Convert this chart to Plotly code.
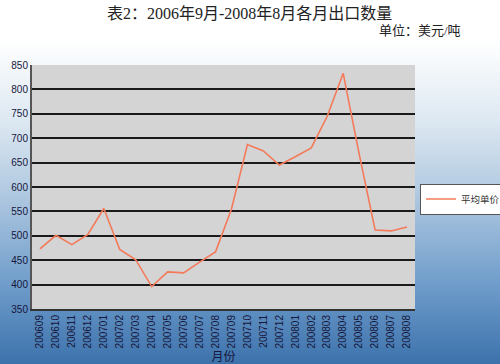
import base64
import plotly.graph_objects as go

months = ['200609', '200610', '200611', '200612', '200701', '200702', '200703', '200704',
          '200705', '200706', '200707', '200708', '200709', '200710', '200711', '200712',
          '200801', '200802', '200803', '200804', '200805', '200806', '200807', '200808']
avg_price = [473, 501, 482, 503, 556, 472, 451, 396, 426, 424, 446, 467,
             555, 687, 674, 645, 662, 680, 745, 833, 668, 512, 510, 518]
series_name = '平均单价'
title_text = '表2：2006年9月-2008年8月各月出口数量'
unit_text = '单位：美元/吨'
x_title = '月份'

W, H = 500, 364
L, R, T, B = 32, 85, 65, 55
pw, ph = W - L - R, H - T - B

svg = ('<svg xmlns="http://www.w3.org/2000/svg" width="500" height="364" viewBox="0 0 500 364" preserveAspectRatio="none">'
       '<defs><linearGradient id="g" x1="0" y1="0" x2="0" y2="1">'
       '<stop offset="0" stop-color="#ffffff"/>'
       '<stop offset="0.25" stop-color="#dde8f2"/>'
       '<stop offset="0.5" stop-color="#abc5df"/>'
       '<stop offset="0.75" stop-color="#709dcb"/>'
       '<stop offset="1" stop-color="#3c72ac"/>'
       '</linearGradient></defs>'
       '<rect x="0" y="0" width="500" height="40" fill="#ffffff"/>'
       '<rect x="0" y="40" width="500" height="324" fill="url(#g)"/>'
       '</svg>')
src = 'data:image/svg+xml;base64,' + base64.b64encode(svg.encode()).decode()

fig = go.Figure()
fig.add_trace(go.Scatter(x=months, y=avg_price, mode='lines', name=series_name,
                         line=dict(color='#f47a5a', width=1.6), showlegend=True))

fig.update_layout(
    width=W, height=H,
    margin=dict(l=L, r=R, t=T, b=B, autoexpand=False),
    paper_bgcolor='#ffffff', plot_bgcolor='#d4d4d4',
    font=dict(family='Liberation Sans, Noto Sans CJK SC', size=10, color='#16163a'),
    showlegend=True,
    legend=dict(x=(420 - L) / pw, y=(H - B - 199) / ph, xanchor='left', yanchor='middle',
                bgcolor='#ffffff', bordercolor='#555555', borderwidth=1,
                font=dict(size=9.5, color='#333333', family='Noto Sans CJK SC'),
                itemwidth=30, tracegroupgap=0),
    images=[dict(source=src, xref='paper', yref='paper',
                 x=-L / pw, y=1 + T / ph, sizex=W / pw, sizey=H / ph,
                 xanchor='left', yanchor='top', sizing='stretch', layer='below')],
    shapes=[dict(type='rect', xref='x domain', yref='y domain', x0=0, x1=1, y0=0, y1=1,
                 fillcolor='#d4d4d4', line=dict(width=0), layer='below')],
    annotations=[
        dict(text=title_text, xref='paper', yref='paper', x=(W / 2 - L) / pw, y=1 + (T - 14) / ph,
             xanchor='center', yanchor='middle', showarrow=False,
             font=dict(family='Liberation Serif, Noto Sans CJK SC', size=16, color='#222222')),
        dict(text=unit_text, xref='paper', yref='paper', x=(463 - L) / pw, y=1 + (T - 31) / ph,
             xanchor='right', yanchor='middle', showarrow=False,
             font=dict(family='Liberation Serif, Noto Sans CJK SC', size=13, color='#222222')),
    ],
)

fig.update_xaxes(type='category', range=[-0.5, len(months) - 0.5], tickangle=-90,
                 showgrid=False, showline=True, linecolor='#333333', linewidth=2,
                 ticks='', tickfont=dict(size=10, color='#16163a'),
                 title=dict(text=x_title, standoff=2,
                            font=dict(size=12, color='#16163a', family='Noto Sans CJK SC')))
fig.update_yaxes(range=[350, 850], dtick=50, showgrid=True, gridcolor='#1a1a1a', gridwidth=2,
                 showline=True, linecolor='#555555', linewidth=2, zeroline=False,
                 ticks='', tickfont=dict(size=10, color='#16163a'))

fig.write_html('out.html', config={'displayModeBar': False},
               post_script="document.body.style.margin='0';document.body.style.overflow='hidden';")
